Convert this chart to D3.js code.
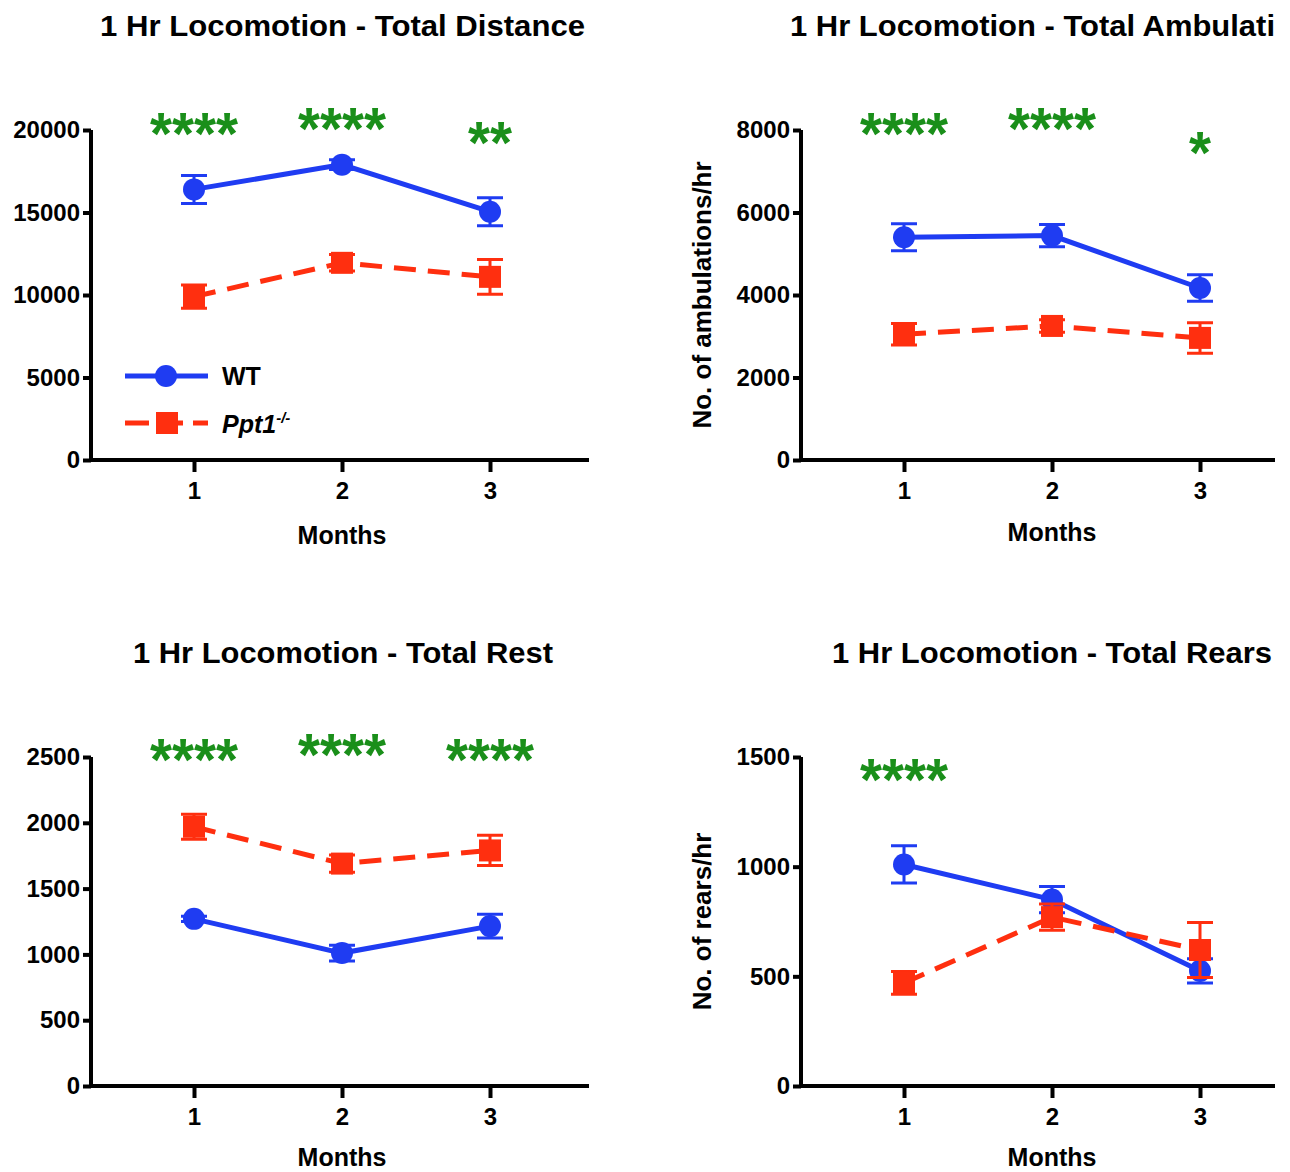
<!DOCTYPE html>
<html>
<head>
<meta charset="utf-8">
<script src="https://cdn.jsdelivr.net/npm/d3@7/dist/d3.min.js"></script>
<style>
  body { margin: 0; background: #fff; }
  text { font-family: "Liberation Sans", Arial, sans-serif; font-weight: bold; fill: #000; }
</style>
</head>
<body>
<svg id="fig" width="1290" height="1172"></svg>
<script>
// ---- data ----
var months = [1, 2, 3];

var distWT = [16400, 17900, 15050];
var distWTerr = [850, 300, 850];
var distKO = [9900, 11950, 11100];
var distKOerr = [700, 500, 1050];
var distStars = ["****", "****", "**"];

var ambWT = [5400, 5440, 4170];
var ambWTerr = [330, 270, 320];
var ambKO = [3050, 3250, 2960];
var ambKOerr = [260, 150, 370];
var ambStars = ["****", "****", "*"];

var restWT = [1270, 1010, 1215];
var restWTerr = [20, 60, 90];
var restKO = [1970, 1690, 1790];
var restKOerr = [95, 65, 115];
var restStars = ["****", "****", "****"];

var rearWT = [1010, 850, 525];
var rearWTerr = [85, 60, 55];
var rearKO = [470, 770, 620];
var rearKOerr = [52, 60, 125];
var rearStars = ["****", "", ""];

var blue = "#1f3cf2", red = "#ff2f0f", green = "#1a8f1a";

var svg = d3.select("#fig");

var panels = [
  { title: "1 Hr Locomotion - Total Distance", tx: 100, tlen: 485, ty: 36,
    left: 91, right: 589, top: 130, bottom: 460, yMax: 20000, step: 5000, mY: 544,
    wt: distWT, wtErr: distWTerr, ko: distKO, koErr: distKOerr,
    stars: distStars, starY: [121, 116, 130], legend: true },
  { title: "1 Hr Locomotion - Total Ambulati", tx: 790, tlen: 485, ty: 36,
    left: 801, right: 1275, top: 130, bottom: 460, yMax: 8000, step: 2000, mY: 541,
    wt: ambWT, wtErr: ambWTerr, ko: ambKO, koErr: ambKOerr,
    stars: ambStars, starY: [121, 116, 140], ylabel: "No. of ambulations/hr" },
  { title: "1 Hr Locomotion - Total Rest", tx: 133, tlen: 420, ty: 663,
    left: 91, right: 589, top: 757, bottom: 1086, yMax: 2500, step: 500, mY: 1166,
    wt: restWT, wtErr: restWTerr, ko: restKO, koErr: restKOerr,
    stars: restStars, starY: [747, 742, 747] },
  { title: "1 Hr Locomotion - Total Rears", tx: 832, tlen: 440, ty: 663,
    left: 801, right: 1275, top: 757, bottom: 1086, yMax: 1500, step: 500, mY: 1166,
    wt: rearWT, wtErr: rearWTerr, ko: rearKO, koErr: rearKOerr,
    stars: rearStars, starY: [767, 0, 0], ylabel: "No. of rears/hr" }
];

panels.forEach(drawPanel);

function drawPanel(p) {
  var g = svg.append("g");
  // tick 1 sits 103 px right of the y axis, ticks are 148 px apart
  var x = d3.scaleLinear().domain([1 - 103 / 148, 3]).range([p.left, p.left + 399]);
  var y = d3.scaleLinear().domain([0, p.yMax]).range([p.bottom, p.top]);

  g.append("text")
    .attr("x", p.tx).attr("y", p.ty)
    .attr("textLength", p.tlen).attr("lengthAdjust", "spacingAndGlyphs")
    .style("font-size", "30px")
    .text(p.title);

  // axes
  var ya = g.append("g").attr("transform", "translate(" + p.left + ",0)")
    .call(d3.axisLeft(y).tickValues(d3.range(0, p.yMax + 1, p.step))
      .tickSize(8).tickSizeOuter(0).tickPadding(3).tickFormat(d3.format("d")));
  var xa = g.append("g").attr("transform", "translate(0," + p.bottom + ")")
    .call(d3.axisBottom(x).tickValues(months).tickSize(12).tickSizeOuter(0).tickPadding(10)
      .tickFormat(d3.format("d")));
  [ya, xa].forEach(function(a) {
    a.select(".domain").attr("stroke-width", 4).attr("stroke", "#000");
    a.selectAll(".tick line").attr("stroke-width", 4).attr("stroke", "#000");
    a.selectAll(".tick text").style("font-size", "24px").style("font-family", "'Liberation Sans', Arial, sans-serif");
  });
  ya.select(".domain").attr("d", "M0," + (p.bottom + 2) + "V" + p.top);
  xa.select(".domain").attr("d", "M" + (p.left - 2) + ",0H" + p.right);

  g.append("text")
    .attr("x", x(2)).attr("y", p.mY)
    .attr("text-anchor", "middle")
    .style("font-size", "25px")
    .text("Months");

  if (p.ylabel) {
    g.append("text")
      .attr("transform", "translate(" + (p.left - 90) + "," + ((p.top + p.bottom) / 2) + ") rotate(-90)")
      .attr("text-anchor", "middle")
      .style("font-size", "26px")
      .text(p.ylabel);
  }

  // significance stars
  p.stars.forEach(function(s, i) {
    if (!s) return;
    g.append("text")
      .attr("x", x(months[i])).attr("y", p.starY[i] + 33)
      .attr("text-anchor", "middle")
      .attr("textLength", s.length * 22).attr("lengthAdjust", "spacingAndGlyphs")
      .style("font-size", "60px").style("fill", green)
      .text(s);
  });

  var series = [
    { v: p.wt, e: p.wtErr, c: blue, dash: null, shape: "circle" },
    { v: p.ko, e: p.koErr, c: red, dash: "22 12", shape: "square" }
  ];
  var line = d3.line().x(function(d, i) { return x(months[i]); }).y(function(d) { return y(d); });

  series.forEach(function(s) {
    var sg = g.append("g");
    sg.append("path").datum(s.v)
      .attr("d", line).attr("fill", "none")
      .attr("stroke", s.c).attr("stroke-width", 5)
      .attr("stroke-dasharray", s.dash);
    s.v.forEach(function(v, i) {
      var cx = x(months[i]);
      var y1 = y(v + s.e[i]), y0 = y(v - s.e[i]);
      sg.append("path")
        .attr("d", "M" + cx + "," + y0 + "V" + y1 + "M" + (cx - 13) + "," + y1 + "H" + (cx + 13) +
                   "M" + (cx - 13) + "," + y0 + "H" + (cx + 13))
        .attr("stroke", s.c).attr("stroke-width", 3).attr("fill", "none");
      if (s.shape === "circle") {
        sg.append("circle").attr("cx", cx).attr("cy", y(v)).attr("r", 11).attr("fill", s.c);
      } else {
        sg.append("rect").attr("x", cx - 11).attr("y", y(v) - 11)
          .attr("width", 22).attr("height", 22).attr("fill", s.c);
      }
    });
  });

  if (p.legend) {
    var lg = g.append("g");
    lg.append("line").attr("x1", 125).attr("x2", 208).attr("y1", 376).attr("y2", 376)
      .attr("stroke", blue).attr("stroke-width", 5);
    lg.append("circle").attr("cx", 166).attr("cy", 376).attr("r", 11).attr("fill", blue);
    lg.append("text").attr("x", 222).attr("y", 385).style("font-size", "25px").text("WT");
    lg.append("line").attr("x1", 125).attr("x2", 208).attr("y1", 423).attr("y2", 423)
      .attr("stroke", red).attr("stroke-width", 5).attr("stroke-dasharray", "24 10");
    lg.append("rect").attr("x", 156).attr("y", 412).attr("width", 22).attr("height", 22).attr("fill", red);
    var t = lg.append("text").attr("x", 222).attr("y", 433).style("font-size", "25px")
      .style("font-style", "italic");
    t.append("tspan").text("Ppt1");
    t.append("tspan").attr("dy", -10).style("font-size", "15px").text("-/-");
  }
}
</script>
</body>
</html>
